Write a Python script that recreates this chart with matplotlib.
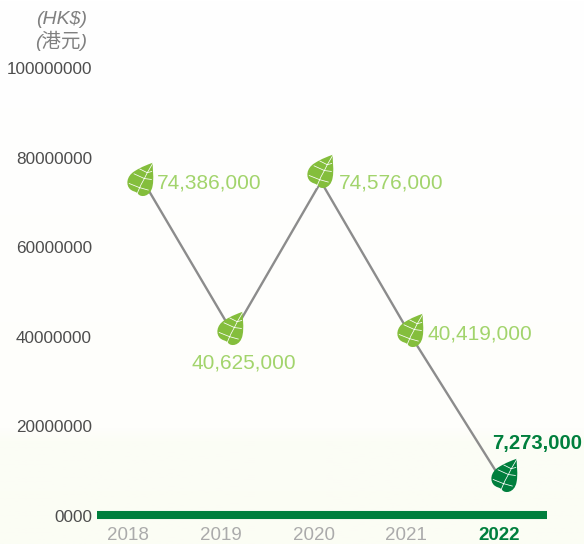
import numpy as np
import matplotlib
matplotlib.use('Agg')
import matplotlib.pyplot as plt
from matplotlib.path import Path
from matplotlib.colors import LinearSegmentedColormap
from matplotlib.transforms import ScaledTranslation

years = ['2018', '2019', '2020', '2021', '2022']
values = [74386000, 40625000, 74576000, 40419000, 7273000]
value_labels = ['74,386,000', '40,625,000', '74,576,000', '40,419,000', '7,273,000']
y_ticks = [0, 20000000, 40000000, 60000000, 80000000, 100000000]
y_tick_labels = ['0000', '20000000', '40000000', '60000000', '80000000', '100000000']

LIGHT = '#A2D46C'
LEAF = '#84BE3C'
DARK = '#007F3D'

plt.rcParams['font.family'] = ['Liberation Sans', 'Noto Sans CJK TC', 'DejaVu Sans']

W, H = 584, 544
fig = plt.figure(figsize=(W / 100, H / 100), dpi=100)

# background fades to a pale yellow near the bottom
bg = fig.add_axes([0, 0, 1, 1], zorder=0)
cmap = LinearSegmentedColormap.from_list('bg', [(0, '#FBFDF4'), (0.19, '#FCFDF6'), (0.21, '#FEFEFB'), (1, '#FFFFFF')])
bg.imshow(np.linspace(1, 0, 256).reshape(-1, 1), aspect='auto', cmap=cmap, extent=[0, 1, 0, 1], vmin=0, vmax=1)
bg.axis('off')

# axes area in pixels: x 0..584, y value 0 at 515 and 100M at 68
ax = fig.add_axes([0, (H - 515) / H, 1, (515 - 68) / H], zorder=1)
ax.patch.set_alpha(0)
ax.set_xlim(0, W)
ax.set_ylim(0, 100000000)
for s in ax.spines.values():
    s.set_visible(False)
ax.set_xticks([])
ax.set_yticks([])

line_x = [144, 233, 321, 410, 503]
tick_x = [128, 221, 314, 406, 499]
ax.plot(line_x, values, color='#8C8C8C', lw=1.7, zorder=2, clip_on=False)
ax.plot([97, 547], [0, 0], color=DARK, lw=5.8, solid_capstyle='butt', zorder=2, clip_on=False)

# leaf marker, tip up and to the right
leaf = Path(
    [(0.73, 1.0), (0.4, 0.88), (0.1, 0.78), (-0.35, 0.5),
     (-0.85, 0.2), (-0.9, -0.35), (-0.6, -0.6),
     (-0.45, -0.72), (-0.25, -0.72), (-0.15, -0.85),
     (0.0, -1.1), (0.6, -1.05), (0.72, -0.4),
     (0.82, 0.1), (0.72, 0.6), (0.73, 1.0),
     (0.73, 1.0)],
    [Path.MOVETO, Path.CURVE4, Path.CURVE4, Path.CURVE4,
     Path.CURVE4, Path.CURVE4, Path.CURVE4,
     Path.CURVE4, Path.CURVE4, Path.CURVE4,
     Path.CURVE4, Path.CURVE4, Path.CURVE4,
     Path.CURVE4, Path.CURVE4, Path.CURVE4,
     Path.CLOSEPOLY],
)
veins = Path(
    [(0.7, 0.95), (0.35, 0.35), (0.2, 0.05), (0.02, -0.28), (-0.1, -0.55), (-0.22, -0.85),
     (0.35, 0.35), (0.6, 0.42),
     (0.2, 0.05), (0.58, 0.0),
     (-0.05, -0.42), (0.42, -0.55),
     (0.35, 0.35), (-0.05, 0.55),
     (0.2, 0.05), (-0.35, 0.3),
     (-0.05, -0.42), (-0.6, -0.2)],
    [Path.MOVETO] + [Path.LINETO] * 5 + [Path.MOVETO, Path.LINETO] * 6,
)

leaf_dx = [-4, -3, -1.5, 0, 1]
leaf_dy = [3, 5, 11, 4, 7]
for i in range(len(values)):
    c = DARK if i == 4 else LEAF
    t = ax.transData + ScaledTranslation(leaf_dx[i] / 100, leaf_dy[i] / 100, fig.dpi_scale_trans)
    ax.plot([line_x[i]], [values[i]], marker=leaf, ms=26.5, mfc=c, mec=c, mew=0, ls='none',
            transform=t, zorder=3, clip_on=False)
    ax.plot([line_x[i]], [values[i]], marker=veins, ms=26.5, mfc='none', mec='white', mew=0.55, ls='none',
            transform=t, zorder=4, clip_on=False)

# value labels, offset in pixels from the point
label_off = [(13, -1), (-42, -30), (18, -1), (18, 0), (-11, 39)]
font_sizes = [15, 15, 15, 15, 14.6]
for i in range(len(values)):
    bold = i == 4
    ax.annotate(value_labels[i], (line_x[i], values[i]), xytext=label_off[i], textcoords='offset pixels',
                color=DARK if bold else LIGHT, fontsize=font_sizes[i], fontweight='bold' if bold else 'normal',
                ha='left', va='center', annotation_clip=False, zorder=5)

for i in range(len(y_ticks)):
    ax.annotate(y_tick_labels[i], (92, y_ticks[i]), xytext=(0, -2), textcoords='offset pixels',
                ha='right', va='center', fontsize=12.3, color='#4D4D4D', annotation_clip=False)

for i in range(len(years)):
    bold = i == 4
    ax.annotate(years[i], (tick_x[i], 0), xytext=(0, -21), textcoords='offset pixels', ha='center', va='center',
                fontsize=13.5, color=DARK if bold else '#ABABAB', fontweight='bold' if bold else 'normal',
                annotation_clip=False)

fig.text(87 / W, 1 - 19 / H, '(HK$)', ha='right', va='center', fontsize=14, style='italic', color='#808080')
fig.text(87 / W, 1 - 41 / H, '(港元)', ha='right', va='center', fontsize=14, style='italic', color='#808080')

fig.savefig('out.png', dpi=100)
